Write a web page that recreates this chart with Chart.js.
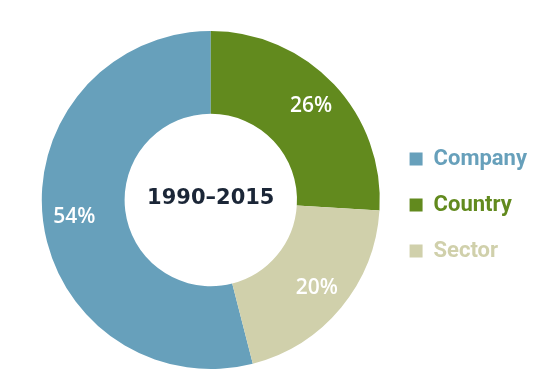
<!DOCTYPE html>
<html>
<head>
<meta charset="utf-8">
<script src="https://cdn.jsdelivr.net/npm/chart.js@4/dist/chart.umd.min.js"></script>
<style>
  html, body { margin: 0; padding: 0; background: #ffffff; }
  #wrap { width: 550px; height: 385px; }
</style>
</head>
<body>
<div id="wrap"><canvas id="c" width="550" height="385"></canvas></div>
<script>
const categories = ['Company', 'Country', 'Sector'];
const shares = [54, 26, 20];
const sliceColors = ['#67A0BB', '#628A1E', '#D0D0AB'];
const centerLabel = '1990\u20132015';

const total = shares.reduce((a, b) => a + b, 0);

const percentLabels = {
  id: 'percentLabels',
  afterDatasetsDraw(chart) {
    const ctx = chart.ctx;
    const meta = chart.getDatasetMeta(0);
    ctx.save();
    ctx.fillStyle = '#ffffff';
    ctx.font = '600 21px "Open Sans", "Liberation Sans", sans-serif';
    ctx.textAlign = 'center';
    ctx.textBaseline = 'middle';
    meta.data.forEach((arc, i) => {
      const p = arc.getProps(['x', 'y', 'startAngle', 'endAngle', 'innerRadius', 'outerRadius'], true);
      const mid = (p.startAngle + p.endAngle) / 2;
      const r = p.innerRadius + 0.62 * (p.outerRadius - p.innerRadius);
      ctx.fillText(shares[i] + '%', p.x + Math.cos(mid) * r, p.y + Math.sin(mid) * r);
    });
    ctx.restore();
  }
};

const centerText = {
  id: 'centerText',
  afterDatasetsDraw(chart) {
    const ctx = chart.ctx;
    const arc = chart.getDatasetMeta(0).data[0];
    if (!arc) return;
    ctx.save();
    ctx.fillStyle = '#1B2637';
    ctx.font = 'bold 21px "DejaVu Sans", sans-serif';
    ctx.textAlign = 'center';
    ctx.textBaseline = 'middle';
    ctx.fillText(centerLabel, arc.x, arc.y - 1);
    ctx.restore();
  }
};

new Chart(document.getElementById('c'), {
  type: 'doughnut',
  data: {
    labels: categories,
    datasets: [{
      data: shares,
      backgroundColor: sliceColors,
      borderWidth: 0,
      hoverOffset: 0
    }]
  },
  options: {
    responsive: false,
    animation: false,
    cutout: '51%',
    rotation: -shares[0] / total * 360,
    layout: { padding: { left: 36, top: 31, bottom: 16, right: 13 } },
    plugins: {
      tooltip: { enabled: false },
      legend: {
        position: 'right',
        title: { display: true, text: ' ', font: { size: 1 }, padding: 4.4 },
        labels: {
          boxWidth: 13,
          boxHeight: 13,
          padding: 24,
          font: { family: 'Roboto, "DejaVu Sans Condensed", sans-serif', size: 22, weight: 'bold' },
          generateLabels(chart) {
            const base = Chart.overrides.doughnut.plugins.legend.labels.generateLabels(chart);
            return base.map(item => Object.assign(item, {
              fontColor: item.fillStyle,
              strokeStyle: item.fillStyle,
              lineWidth: 0
            }));
          }
        }
      }
    }
  },
  plugins: [percentLabels, centerText]
});
</script>
</body>
</html>
